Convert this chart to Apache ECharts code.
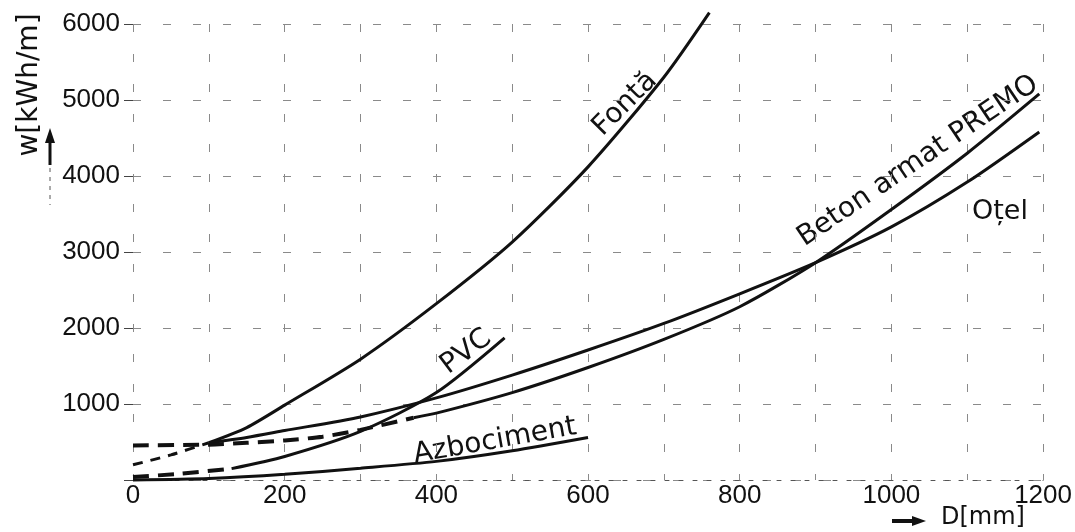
<!DOCTYPE html>
<html>
<head>
<meta charset="utf-8">
<script src="https://cdn.jsdelivr.net/npm/echarts@6/dist/echarts.min.js"></script>
<style>html,body{margin:0;padding:0;background:#fff}#c{width:1075px;height:532px}</style>
</head>
<body>
<div id="c"></div>
<script>
// ---- data (D in mm, W in kWh/m) ----
const xTicks = [0, 200, 400, 600, 800, 1000, 1200];
const yTicks = [1000, 2000, 3000, 4000, 5000, 6000];

const fontaExtD = [0, 50, 100];
const fontaExtW = [200, 330, 490];
const fontaD = [100, 150, 200, 300, 400, 500, 600, 700, 760];
const fontaW = [490, 690, 985, 1590, 2320, 3130, 4120, 5300, 6150];

const otelD = [100, 150, 200, 300, 400, 500, 600, 700, 800, 900, 1000, 1100, 1195];
const otelW = [490, 560, 650, 830, 1080, 1380, 1710, 2060, 2450, 2860, 3330, 3920, 4580];

const betonExtD = [0, 100, 150, 200, 250, 300, 370];
const betonExtW = [455, 465, 490, 520, 570, 660, 820];
const betonD = [370, 400, 500, 600, 700, 800, 900, 1000, 1100, 1195];
const betonW = [820, 880, 1150, 1480, 1850, 2280, 2860, 3560, 4300, 5080];

const pvcExtD = [0, 60, 130];
const pvcExtW = [40, 80, 150];
const pvcD = [130, 200, 300, 400, 490];
const pvcW = [150, 310, 640, 1150, 1870];

const azboD = [0, 100, 200, 300, 400, 500, 600];
const azboW = [0, 20, 75, 155, 245, 385, 560];

const pair = (xs, ys) => xs.map((x, i) => [x, ys[i]]);

const INK = '#111';
const TXT = "'DejaVu Sans', sans-serif";
const NUM = "'Liberation Sans', Arial, sans-serif";

function line(name, xs, ys, opts) {
  return Object.assign({
    type: 'line', name: name, data: pair(xs, ys), smooth: 0.25,
    symbol: 'none', clip: false,
    lineStyle: { color: INK, width: 3 }
  }, opts || {});
}

const chart = echarts.init(document.getElementById('c'));
chart.setOption({
  backgroundColor: '#fff',
  animation: false,
  grid: { left: 133, right: 30, top: 24, bottom: 52 },
  xAxis: {
    type: 'value', min: 0, max: 1200, interval: 100,
    axisLine: { show: true, lineStyle: { color: '#555', width: 1, type: [4, 10] } },
    axisTick: { show: false },
    splitLine: { show: true, lineStyle: { color: '#8a8a8a', width: 1, type: [8, 22] } },
    axisLabel: {
      margin: 3, color: INK, fontFamily: NUM, fontSize: 26,
      formatter: v => xTicks.indexOf(v) >= 0 ? String(v) : ''
    }
  },
  yAxis: {
    type: 'value', min: 0, max: 6000, interval: 1000,
    axisLine: { show: false },
    axisTick: { show: true, length: 9, lineStyle: { color: '#444', width: 1 } },
    splitLine: { show: true, lineStyle: { color: '#8a8a8a', width: 1, type: [8, 22] } },
    axisLabel: {
      margin: 13, color: INK, fontFamily: NUM, fontSize: 26,
      formatter: v => yTicks.indexOf(v) >= 0 ? String(v) : ''
    }
  },
  series: [
    line('Fontă ext', fontaExtD, fontaExtW, { lineStyle: { color: INK, width: 3, type: [10, 8] } }),
    line('Fontă', fontaD, fontaW),
    line('Oțel', otelD, otelW),
    line('Beton ext', betonExtD, betonExtW, { lineStyle: { color: INK, width: 4, type: [16, 9] } }),
    line('Beton armat PREMO', betonD, betonW),
    line('PVC ext', pvcExtD, pvcExtW, { lineStyle: { color: INK, width: 4, type: [16, 9] } }),
    line('PVC', pvcD, pvcW),
    line('Azbociment', azboD, azboW)
  ],
  graphic: [
    { type: 'text', x: 625, y: 104, rotation: Math.PI / 4,
      style: { text: 'Fontă', font: '28px ' + TXT, fill: INK, align: 'center', verticalAlign: 'middle' } },
    { type: 'text', x: 466, y: 352, rotation: 37 * Math.PI / 180,
      style: { text: 'PVC', font: '28px ' + TXT, fill: INK, align: 'center', verticalAlign: 'middle' } },
    { type: 'text', x: 495, y: 441, rotation: 10 * Math.PI / 180,
      style: { text: 'Azbociment', font: '28px ' + TXT, fill: INK, align: 'center', verticalAlign: 'middle' } },
    { type: 'text', x: 918, y: 161, rotation: 34 * Math.PI / 180,
      style: { text: 'Beton armat PREMO', font: '28px ' + TXT, fill: INK, align: 'center', verticalAlign: 'middle' } },
    { type: 'text', x: 1000, y: 212,
      style: { text: 'Oțel', font: '27px ' + TXT, fill: INK, align: 'center', verticalAlign: 'middle' } },
    { type: 'text', x: 30, y: 85, rotation: Math.PI / 2,
      style: { text: 'w[kWh/m]', font: '28px ' + TXT, fill: INK, align: 'center', verticalAlign: 'middle' } },
    { type: 'text', x: 983, y: 518,
      style: { text: 'D[mm]', font: '24px ' + TXT, fill: INK, align: 'center', verticalAlign: 'middle' } },
    // axis arrows
    { type: 'line', shape: { x1: 50, y1: 165, x2: 50, y2: 140 }, style: { stroke: INK, lineWidth: 3 } },
    { type: 'polygon', shape: { points: [[45, 143], [55, 143], [50, 128]] }, style: { fill: INK } },
    { type: 'line', shape: { x1: 50, y1: 168, x2: 50, y2: 205 }, style: { stroke: '#555', lineWidth: 1, lineDash: [4, 5] } },
    { type: 'line', shape: { x1: 892, y1: 521, x2: 914, y2: 521 }, style: { stroke: INK, lineWidth: 4 } },
    { type: 'polygon', shape: { points: [[912, 516], [912, 526], [926, 521]] }, style: { fill: INK } }
  ]
});
</script>
</body>
</html>
